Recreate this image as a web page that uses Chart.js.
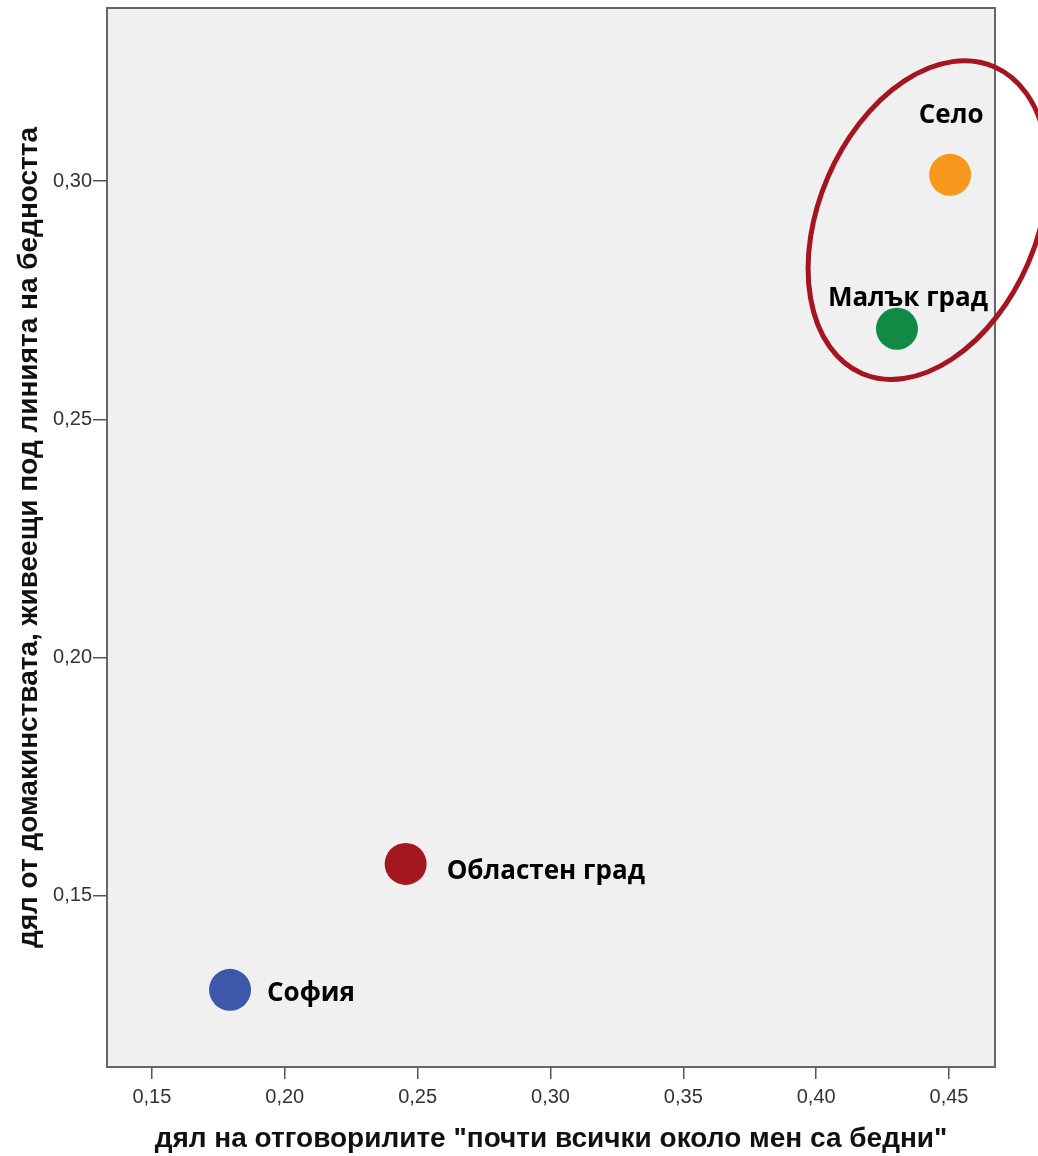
<!DOCTYPE html>
<html>
<head>
<meta charset="utf-8">
<script src="https://cdn.jsdelivr.net/npm/chart.js@4.4.0/dist/chart.umd.min.js"></script>
<style>
  html, body { margin: 0; padding: 0; background: #fff; }
  #wrap { width: 1038px; height: 1156px; }
</style>
</head>
<body>
<div id="wrap"><canvas id="myChart" width="1038" height="1156"></canvas></div>
<script>
// data
var places = ['Село', 'Малък град', 'Областен град', 'София'];
var xValues = [0.4504, 0.4304, 0.2455, 0.1794];
var yValues = [0.3013, 0.2690, 0.1567, 0.1303];
var pointColors = ['#F7981D', '#118A45', '#A4191E', '#3D58AB'];
var xTicks = [0.15, 0.20, 0.25, 0.30, 0.35, 0.40, 0.45];
var yTicks = [0.15, 0.20, 0.25, 0.30];
var xTitle = 'дял на отговорилите "почти всички около мен са бедни"';
var yTitle = 'дял от домакинствата, живеещи под линията на бедността';

function fmt(v) { return v.toFixed(2).replace('.', ','); }

var points = xValues.map(function (x, i) { return { x: x, y: yValues[i] }; });

// grey plot panel with a frame
var panel = {
    id: 'panel',
    beforeDraw: function (chart) {
        var a = chart.chartArea, c = chart.ctx;
        c.save();
        c.fillStyle = '#F0F0F0';
        c.fillRect(a.left, a.top, a.right - a.left, a.bottom - a.top);
        c.strokeStyle = '#666';
        c.lineWidth = 2;
        c.strokeRect(a.left, a.top, a.right - a.left, a.bottom - a.top);
        c.restore();
    }
};

// names beside the points
var pointLabels = {
    id: 'pointLabels',
    afterDatasetsDraw: function (chart, args, opts) {
        var c = chart.ctx;
        var meta = chart.getDatasetMeta(0);
        c.save();
        c.font = 'bold 26px "Open Sans", sans-serif';
        c.fillStyle = '#000';
        c.textBaseline = 'middle';
        meta.data.forEach(function (el, i) {
            var o = opts.offsets[i];
            c.textAlign = o.align;
            c.fillText(places[i], el.x + o.dx, el.y + o.dy);
        });
        c.restore();
    }
};

// the red ring round Село and Малък град
var ring = {
    id: 'ring',
    afterDatasetsDraw: function (chart, args, opts) {
        var c = chart.ctx;
        var cx = chart.scales.x.getPixelForValue(opts.cx);
        var cy = chart.scales.y.getPixelForValue(opts.cy);
        c.save();
        c.strokeStyle = '#A5141F';
        c.lineWidth = 5;
        c.beginPath();
        c.ellipse(cx, cy, opts.rx, opts.ry, opts.rot, 0, Math.PI * 2);
        c.stroke();
        c.restore();
    }
};

var tickFont = { family: '"Liberation Sans", Arial, sans-serif', size: 20 };
var titleFont = { family: '"Liberation Sans", Arial, sans-serif', size: 28, weight: 'bold' };

var ctx = document.getElementById('myChart').getContext('2d');
var myChart = new Chart(ctx, {
    type: 'scatter',
    data: {
        datasets: [{
            data: points,
            backgroundColor: pointColors,
            borderColor: pointColors,
            borderWidth: 0,
            pointRadius: 21,
            pointHoverRadius: 21,
            clip: false
        }]
    },
    options: {
        responsive: false,
        animation: false,
        events: [],
        layout: { autoPadding: false, padding: { top: 8, right: 43, left: 0, bottom: 0 } },
        plugins: {
            legend: { display: false },
            tooltip: { enabled: false },
            pointLabels: {
                offsets: [
                    { dx: 1, dy: -59, align: 'center' },
                    { dx: 11, dy: -30, align: 'center' },
                    { dx: 41, dy: 8, align: 'left' },
                    { dx: 37, dy: 4, align: 'left' }
                ]
            },
            ring: { cx: 0.4421, cy: 0.2918, rx: 109, ry: 167, rot: 0.407 }
        },
        scales: {
            x: {
                type: 'linear',
                min: 0.1331,
                max: 0.4673,
                afterFit: function (s) { s.height = 89; s.paddingLeft = 0; s.paddingRight = 0; },
                afterBuildTicks: function (s) {
                    s.ticks = xTicks.map(function (v) { return { value: v }; });
                },
                border: { display: false },
                grid: { drawOnChartArea: false, drawTicks: true, tickLength: 12, color: '#555', lineWidth: 1.5 },
                ticks: {
                    padding: 6,
                    color: '#333',
                    font: tickFont,
                    callback: function (v) { return fmt(v); }
                },
                title: {
                    display: true,
                    text: xTitle,
                    color: '#111',
                    font: titleFont,
                    padding: { top: 12, bottom: 0 }
                }
            },
            y: {
                type: 'linear',
                min: 0.1141,
                max: 0.3363,
                afterFit: function (s) { s.width = 107; s.paddingTop = 0; s.paddingBottom = 0; },
                afterBuildTicks: function (s) {
                    s.ticks = yTicks.map(function (v) { return { value: v }; });
                },
                border: { display: false },
                grid: { drawOnChartArea: false, drawTicks: true, tickLength: 14, color: '#555', lineWidth: 1.5 },
                ticks: {
                    padding: 1,
                    color: '#333',
                    font: tickFont,
                    callback: function (v) { return fmt(v); }
                },
                title: {
                    display: true,
                    text: yTitle,
                    color: '#111',
                    font: titleFont,
                    padding: { top: 12, bottom: 0 }
                }
            }
        }
    },
    plugins: [panel, pointLabels, ring]
});
</script>
</body>
</html>
